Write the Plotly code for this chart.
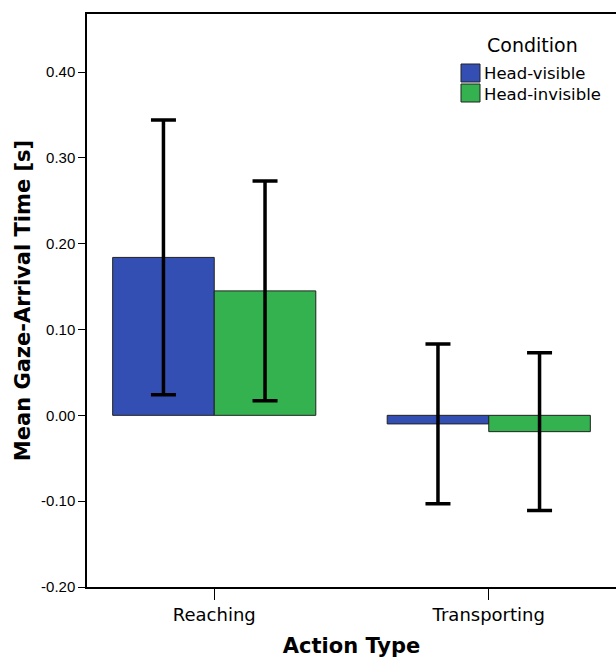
import plotly.graph_objects as go

categories = ["Reaching", "Transporting"]
series_names = ["Head-visible", "Head-invisible"]
head_visible = [0.184, -0.010]
head_visible_err = [0.160, 0.093]
head_invisible = [0.145, -0.019]
head_invisible_err = [0.128, 0.092]
y_ticks = [-0.2, -0.1, 0.0, 0.1, 0.2, 0.3, 0.4]
y_tick_labels = ["-0.20", "-0.10", "0.00", "0.10", "0.20", "0.30", "0.40"]
legend_title = "Condition"

colors = ["#334FB3", "#33B24F"]
values = [head_visible, head_invisible]
errors = [head_visible_err, head_invisible_err]

fig = go.Figure()
for name, vals, errs, col in zip(series_names, values, errors, colors):
    fig.add_trace(go.Bar(
        x=categories, y=vals, name=name,
        marker=dict(color=col, line=dict(color="#222222", width=1)),
        error_y=dict(type="data", array=errs, visible=True,
                     color="black", thickness=3.5, width=12.5),
    ))

# Manual legend (swatches + labels), positioned in paper coordinates
def px_x(sx):
    return (sx - 87) / 529.0

def px_y(sy):
    return (587 - sy) / 573.0

swatch_rows = [(64, 82, 73), (84, 102, 94)]
for (top, bot, mid), name, col in zip(swatch_rows, series_names, colors):
    fig.add_shape(type="rect", xref="paper", yref="paper",
                  x0=px_x(461), x1=px_x(480), y0=px_y(bot), y1=px_y(top),
                  fillcolor=col, line=dict(color="#222222", width=1))
    fig.add_annotation(xref="paper", yref="paper", x=px_x(482), y=px_y(mid),
                       text=name, showarrow=False, xanchor="left", yanchor="middle",
                       font=dict(family="DejaVu Sans", size=16.5, color="black"))
fig.add_annotation(xref="paper", yref="paper", x=px_x(532), y=px_y(45),
                   text=legend_title, showarrow=False, xanchor="center", yanchor="middle",
                   font=dict(family="DejaVu Sans", size=19, color="black"))

fig.update_layout(
    width=616, height=658,
    margin=dict(l=87, r=0, t=14, b=71),
    paper_bgcolor="white", plot_bgcolor="white",
    barmode="group", bargap=0.26, bargroupgap=0,
    showlegend=False,
    xaxis=dict(
        range=[-0.4635, 1.4635],
        showline=True, linecolor="black", linewidth=1.5, mirror=True,
        ticks="outside", ticklen=11, tickcolor="black", tickwidth=1,
        tickfont=dict(family="DejaVu Sans", size=18, color="black"),
        title=dict(text="<b>Action Type</b>", standoff=17,
                   font=dict(family="DejaVu Sans", size=21, color="black")),
        showgrid=False, zeroline=False,
    ),
    yaxis=dict(
        range=[-0.2, 0.4676],
        tickvals=y_ticks, ticktext=y_tick_labels,
        showline=True, linecolor="black", linewidth=1.5,
        ticks="outside", ticklen=7, tickcolor="black", tickwidth=1,
        tickfont=dict(family="Liberation Sans", size=15, color="black"),
        title=dict(text="<b>Mean Gaze-Arrival Time [s]</b>", standoff=5,
                   font=dict(family="DejaVu Sans", size=21, color="black")),
        showgrid=False, zeroline=False,
    ),
)

fig.write_html(
    "out.html",
    config={"displayModeBar": False},
    post_script="document.body.style.margin='0';document.body.style.overflow='hidden';",
)
